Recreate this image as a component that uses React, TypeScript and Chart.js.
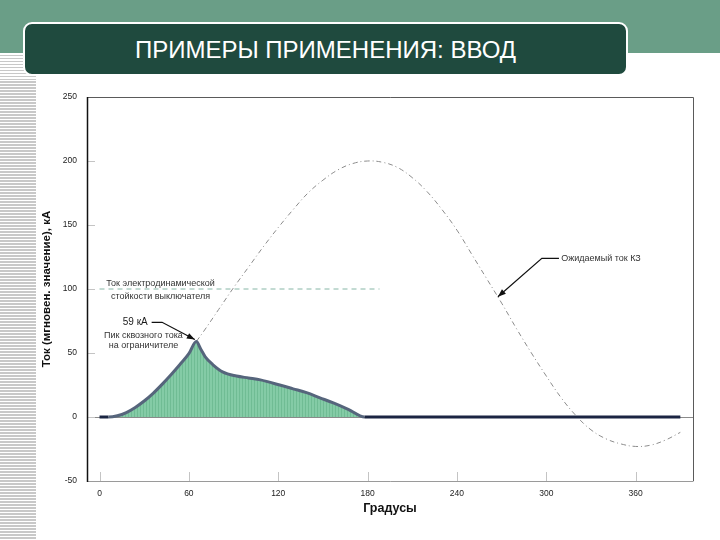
import { useEffect, useRef } from 'react';
import { Chart, registerables } from 'chart.js';

Chart.register(...registerables);

// ---- data ----
const limitedDeg = [0, 6, 12, 18, 24, 30, 36, 42, 48, 54, 60, 65, 68, 71, 76, 83, 92, 100, 108, 121, 130, 139, 148, 157, 167, 178, 390];
const limitedKA = [0, 0, 1, 3.5, 7.5, 12.5, 18.5, 25.5, 33, 41, 49.5, 59, 53, 47, 41, 35, 32, 30.5, 29, 25, 22, 19, 15, 11, 6, 0, 0];

const expectedDeg = [65, 70, 80, 90, 100, 110, 120, 130, 140, 150, 160, 170, 180, 190, 200, 210, 220, 230, 240, 250, 260, 270, 280, 290, 300, 310, 320, 330, 340, 350, 360, 370, 380, 390];
const expectedKA = [59, 67, 84, 101, 117, 133, 148, 162, 175, 185, 193, 198, 200, 199, 195, 187, 176, 162, 146, 127, 108, 89, 69, 50, 32, 15, 1, -10, -17, -21, -23, -22, -18, -12];

const withstandDeg = [0, 188];
const withstandKA = [100, 100];

const xTicks = [0, 60, 120, 180, 240, 300, 360];
const yTicks = [-50, 0, 50, 100, 150, 200, 250];

const titleText = 'ПРИМЕРЫ ПРИМЕНЕНИЯ: ВВОД';
const xTitle = 'Градусы';
const yTitle = 'Ток (мгновен. значение), кА';

// annotation texts (anchored in data units: degrees, kA)
const noteTexts = [
  { text: 'Ток электродинамической', x: 41, y: 104.5, size: 9 },
  { text: 'стойкости выключателя', x: 41, y: 94.5, size: 9 },
  { text: '59 кА', x: 24, y: 74, size: 10 },
  { text: 'Пик сквозного тока', x: 29.5, y: 64, size: 9 },
  { text: 'на ограничителе', x: 29.5, y: 56, size: 9 },
  { text: 'Ожидаемый ток КЗ', x: 310, y: 123.5, size: 9, left: true },
];
const arrows = [
  { xs: [35, 42, 64], ys: [74, 74, 60.5] },
  { xs: [308.5, 297, 267.5], ys: [124, 124, 94] },
];

function makePattern(): CanvasPattern | string {
  const c = document.createElement('canvas');
  c.width = 3;
  c.height = 4;
  const g = c.getContext('2d');
  if (!g) return '#84caa6';
  g.fillStyle = '#84cba6';
  g.fillRect(0, 0, 3, 4);
  g.fillStyle = '#70bc94';
  g.fillRect(2, 0, 1, 4);
  const p = g.createPattern(c, 'repeat');
  return p || '#84caa6';
}

const framePlugin = {
  id: 'frame',
  beforeDatasetsDraw(chart: any) {
    const { ctx, chartArea: a, scales } = chart;
    const x = scales.x;
    const y = scales.y;
    ctx.save();
    ctx.strokeStyle = '#8a8a8a';
    ctx.lineWidth = 1;
    const y0 = Math.round(y.getPixelForValue(0)) + 0.5;
    ctx.beginPath();
    ctx.moveTo(a.left, y0);
    ctx.lineTo(a.right, y0);
    ctx.stroke();
    ctx.strokeStyle = '#c4c4c4';
    for (const v of yTicks) {
      const py = Math.round(y.getPixelForValue(v)) + 0.5;
      ctx.beginPath();
      ctx.moveTo(a.left, py);
      ctx.lineTo(a.left + 8, py);
      ctx.stroke();
    }
    for (const v of xTicks) {
      const px = Math.round(x.getPixelForValue(v)) + 0.5;
      ctx.beginPath();
      ctx.moveTo(px, a.bottom);
      ctx.lineTo(px, a.bottom - 9);
      ctx.stroke();
    }
    ctx.restore();
  },
  afterDatasetsDraw(chart: any) {
    const { ctx, chartArea: a, scales } = chart;
    const x = scales.x;
    const y = scales.y;
    ctx.save();
    ctx.lineWidth = 1;
    ctx.strokeStyle = '#5a5a5a';
    ctx.beginPath();
    ctx.moveTo(a.left, a.top + 0.5);
    ctx.lineTo(a.right + 0.5, a.top + 0.5);
    ctx.lineTo(a.right + 0.5, a.bottom);
    ctx.stroke();
    ctx.strokeStyle = '#9a9a9a';
    ctx.beginPath();
    ctx.moveTo(a.left, a.bottom + 0.5);
    ctx.lineTo(a.right + 0.5, a.bottom + 0.5);
    ctx.stroke();
    ctx.strokeStyle = '#111';
    ctx.lineWidth = 1.5;
    ctx.beginPath();
    ctx.moveTo(a.left + 0.5, a.top);
    ctx.lineTo(a.left + 0.5, a.bottom + 1);
    ctx.stroke();

    ctx.textBaseline = 'middle';
    for (const n of noteTexts) {
      ctx.font = `${n.size}px "Liberation Sans", Arial, sans-serif`;
      ctx.fillStyle = n.size > 9 ? '#1a1a1a' : '#333';
      ctx.textAlign = n.left ? 'left' : 'center';
      ctx.fillText(n.text, x.getPixelForValue(n.x), y.getPixelForValue(n.y));
    }
    for (const ar of arrows) {
      const px = ar.xs.map((v) => x.getPixelForValue(v));
      const py = ar.ys.map((v) => y.getPixelForValue(v));
      ctx.strokeStyle = '#111';
      ctx.fillStyle = '#111';
      ctx.lineWidth = 1.2;
      ctx.beginPath();
      ctx.moveTo(px[0], py[0]);
      for (let i = 1; i < px.length; i++) ctx.lineTo(px[i], py[i]);
      ctx.stroke();
      const n = px.length - 1;
      const ang = Math.atan2(py[n] - py[n - 1], px[n] - px[n - 1]);
      const L = 8;
      const W = 3;
      ctx.beginPath();
      ctx.moveTo(px[n], py[n]);
      ctx.lineTo(px[n] - L * Math.cos(ang) + W * Math.sin(ang), py[n] - L * Math.sin(ang) - W * Math.cos(ang));
      ctx.lineTo(px[n] - L * Math.cos(ang) - W * Math.sin(ang), py[n] - L * Math.sin(ang) + W * Math.cos(ang));
      ctx.closePath();
      ctx.fill();
    }
    ctx.restore();
  },
};

function ChartBox() {
  const ref = useRef<HTMLCanvasElement | null>(null);
  useEffect(() => {
    if (!ref.current) return;
    const zeroSeg = (c: any) =>
      c.p0.parsed.y === 0 && c.p1.parsed.y === 0 ? '#1b2542' : '#56657c';
    const chart = new Chart(ref.current, {
      type: 'line',
      data: {
        datasets: [
          {
            label: 'expected',
            data: expectedDeg.map((d, i) => ({ x: d, y: expectedKA[i] })),
            borderColor: '#8c8c8c',
            borderWidth: 1,
            borderDash: [5, 3, 1, 3],
            pointRadius: 0,
            tension: 0.4,
            fill: false,
            order: 3,
          },
          {
            label: 'withstand',
            data: withstandDeg.map((d, i) => ({ x: d, y: withstandKA[i] })),
            borderColor: '#86b6a6',
            borderWidth: 1,
            borderDash: [5, 4],
            pointRadius: 0,
            fill: false,
            order: 2,
          },
          {
            label: 'limited',
            data: limitedDeg.map((d, i) => ({ x: d, y: limitedKA[i] })),
            borderColor: '#56657c',
            segment: { borderColor: zeroSeg },
            borderWidth: 3,
            backgroundColor: makePattern() as any,
            fill: 'origin',
            pointRadius: 0,
            cubicInterpolationMode: 'monotone',
            order: 1,
          },
        ],
      },
      options: {
        animation: false,
        responsive: false,
        maintainAspectRatio: false,
        layout: { padding: { left: 36, right: 27, top: 97, bottom: 20 } },
        plugins: {
          legend: { display: false },
          tooltip: { enabled: false },
        },
        scales: {
          x: {
            type: 'linear',
            min: -8.4,
            max: 398.5,
            afterFit: (s: any) => {
              s.height = 39;
            },
            afterBuildTicks: (s: any) => {
              s.ticks = xTicks.map((v) => ({ value: v }));
            },
            grid: { display: false, drawTicks: false },
            border: { display: false },
            ticks: {
              padding: 8,
              color: '#222',
              font: { size: 8.5, family: '"Liberation Sans", Arial, sans-serif' },
              maxRotation: 0,
              autoSkip: false,
            },
            title: {
              display: true,
              text: xTitle,
              color: '#111',
              padding: { top: 2, bottom: 4 },
              font: { size: 12.5, weight: 'bold', family: '"Liberation Sans", Arial, sans-serif' },
            },
          },
          y: {
            type: 'linear',
            min: -50,
            max: 250,
            afterFit: (s: any) => {
              s.width = 51;
            },
            afterBuildTicks: (s: any) => {
              s.ticks = yTicks.map((v) => ({ value: v }));
            },
            grid: { display: false, drawTicks: false },
            border: { display: false },
            ticks: {
              padding: 10,
              color: '#222',
              font: { size: 8.5, family: '"Liberation Sans", Arial, sans-serif' },
              autoSkip: false,
            },
            title: {
              display: true,
              text: yTitle,
              color: '#111',
              padding: { top: 4, bottom: 2 },
              font: { size: 11.5, weight: 'bold', family: '"Liberation Sans", Arial, sans-serif' },
            },
          },
        },
      },
      plugins: [framePlugin],
    } as any);
    return () => chart.destroy();
  }, []);
  return (
    <canvas
      ref={ref}
      width={720}
      height={540}
      style={{ position: 'absolute', left: 0, top: 0, width: 720, height: 540 }}
    />
  );
}

export default function App() {
  return (
    <div
      style={{
        position: 'fixed',
        left: 0,
        top: 0,
        width: 720,
        height: 540,
        overflow: 'hidden',
        background: '#ffffff',
      }}
    >
      <div style={{ position: 'absolute', left: 0, top: 0, width: 720, height: 53, background: '#6a9e87' }} />
      <div
        style={{
          position: 'absolute',
          left: 0,
          top: 53,
          width: 36,
          height: 487,
          background: 'repeating-linear-gradient(to bottom, #ffffff 0px, #ffffff 1.5px, #c8c8c8 1.5px, #c8c8c8 3px)',
        }}
      />
      <ChartBox />
      <div
        style={{
          position: 'absolute',
          left: 23,
          top: 22,
          width: 601,
          height: 48,
          background: '#1f4a3e',
          border: '2px solid #ffffff',
          borderRadius: 9,
          display: 'flex',
          alignItems: 'center',
          justifyContent: 'center',
          color: '#ffffff',
          fontFamily: '"Liberation Sans", Arial, sans-serif',
          fontSize: 24,
          paddingTop: 2,
          boxSizing: 'content-box',
        }}
      >
        {titleText}
      </div>
    </div>
  );
}
